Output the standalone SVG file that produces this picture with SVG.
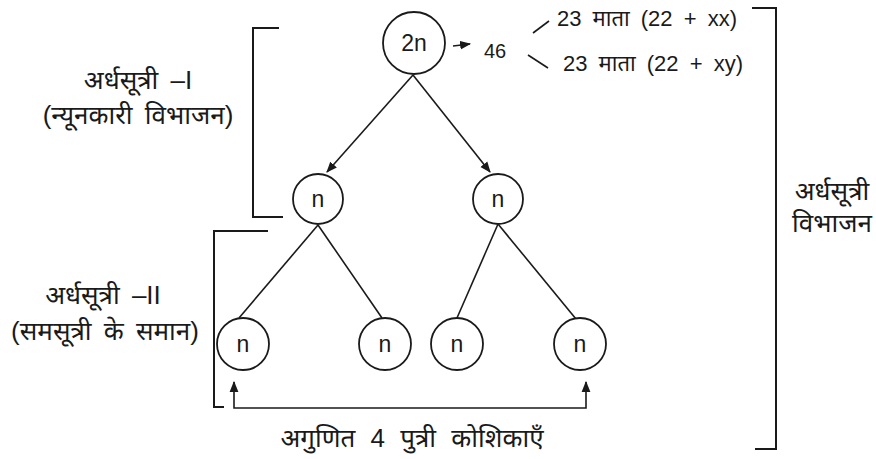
<svg xmlns="http://www.w3.org/2000/svg" width="876" height="459" viewBox="0 0 876 459">
<defs>
<style>
.t{font-family:"Liberation Sans","Noto Sans",sans-serif;font-size:22px;fill:#1a1a1a;word-spacing:5px}
.n{font-family:"Liberation Sans","Noto Sans",sans-serif;font-size:23px;fill:#1a1a1a;text-anchor:middle}
.d{font-family:"Liberation Sans","Noto Sans",sans-serif;font-size:26px;fill:#1a1a1a;text-anchor:middle;word-spacing:5px}
.c{fill:#fff;stroke:#1a1a1a;stroke-width:1.8}
.l{fill:none;stroke:#1a1a1a;stroke-width:1.6}
.b{fill:none;stroke:#1a1a1a;stroke-width:2}
</style>
<marker id="ah" viewBox="0 0 10 10" refX="9" refY="5" markerWidth="11" markerHeight="11" markerUnits="userSpaceOnUse" orient="auto"><path d="M0,1 L10,5 L0,9 Z" fill="#1a1a1a"/></marker>
</defs>
<rect width="876" height="459" fill="#fff"/>
<g id="connectors">
<line class="l" x1="413" y1="75" x2="327" y2="172" marker-end="url(#ah)"/>
<line class="l" x1="413" y1="75" x2="490" y2="172" marker-end="url(#ah)"/>
<line class="l" x1="318" y1="225" x2="239" y2="318"/>
<line class="l" x1="318" y1="225" x2="382" y2="318"/>
<line class="l" x1="498" y1="224" x2="457" y2="318"/>
<line class="l" x1="498" y1="224" x2="576" y2="319"/>
<line class="l" x1="453" y1="46" x2="470" y2="44" marker-end="url(#ah)"/>
<line class="l" x1="533" y1="33" x2="549" y2="21"/>
<line class="l" x1="528" y1="55" x2="548" y2="68"/>
<polyline class="l" points="234,383 234,408 586,408 586,383"/>
<line class="l" x1="234" y1="392" x2="234" y2="382" marker-end="url(#ah)"/>
<line class="l" x1="586" y1="392" x2="586" y2="382" marker-end="url(#ah)"/>
</g>
<g id="brackets">
<polyline class="b" points="279,28 253,28 253,217 283,217"/>
<polyline class="b" points="268,231 214,231 214,407 224,407"/>
<polyline class="b" points="752,8 776,8 776,449 755,449"/>
</g>
<g id="node-2n"><circle class="c" cx="414" cy="43" r="31"/><text class="n" x="414" y="51">2n</text></g>
<g id="node-n1"><circle class="c" cx="318" cy="199" r="25"/><text class="n" x="318" y="207">n</text></g>
<g id="node-n2"><circle class="c" cx="498" cy="199" r="25"/><text class="n" x="498" y="207">n</text></g>
<g id="node-n3"><circle class="c" cx="243" cy="344" r="26"/><text class="n" x="243" y="352">n</text></g>
<g id="node-n4"><circle class="c" cx="385" cy="344" r="26"/><text class="n" x="385" y="352">n</text></g>
<g id="node-n5"><circle class="c" cx="457" cy="344" r="26"/><text class="n" x="457" y="352">n</text></g>
<g id="node-n6"><circle class="c" cx="580" cy="344" r="26"/><text class="n" x="580" y="352">n</text></g>
<g id="labels">
<text class="t" x="484" y="58" style="font-size:20px">46</text>
<text class="t" x="557" y="26">23 माता (22 + xx)</text>
<text class="t" x="563" y="71">23 माता (22 + xy)</text>
<text class="d" x="138" y="89">अर्धसूत्री –I</text>
<text class="d" x="138" y="124">(न्यूनकारी विभाजन)</text>
<text class="d" x="103" y="304">अर्धसूत्री –II</text>
<text class="d" x="105" y="340">(समसूत्री के समान)</text>
<text class="d" x="832" y="200">अर्धसूत्री</text>
<text class="d" x="832" y="232">विभाजन</text>
<text class="d" x="412" y="447" style="word-spacing:8px">अगुणित 4 पुत्री कोशिकाएँ</text>
</g>
</svg>
